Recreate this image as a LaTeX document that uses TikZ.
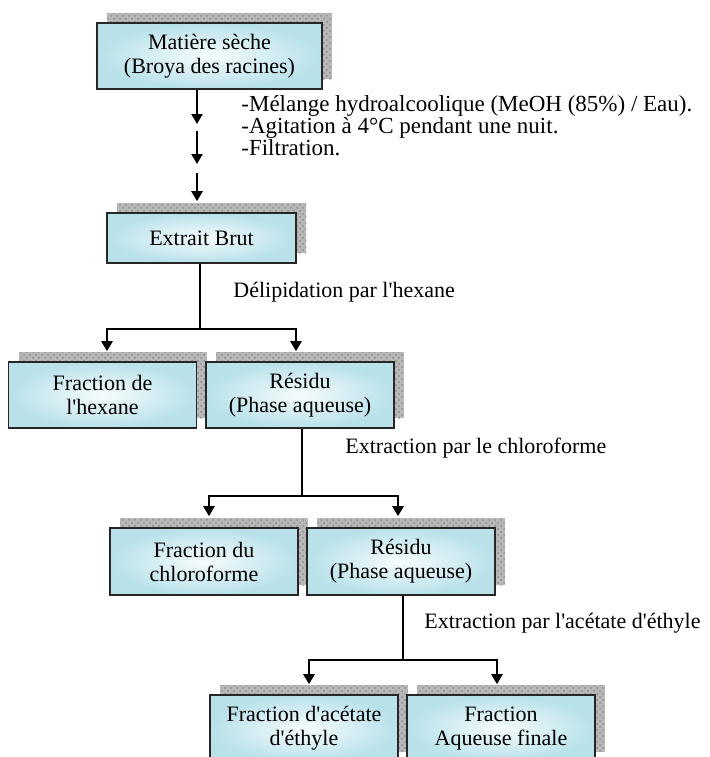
\documentclass[tikz,border=0pt]{standalone}
\usepackage{fontspec}
\setmainfont{Liberation Serif}
\usetikzlibrary{arrows.meta,shadows,calc,patterns}
\newcommand\sq{\textquotesingle}
\definecolor{boxedge}{RGB}{184,225,234}
\definecolor{boxmid}{RGB}{246,252,253}
\definecolor{shadowgray}{RGB}{184,184,184}
\tikzset{
  box/.style={draw=black!85, line width=0.8pt, shading=radial, inner color=boxmid, outer color=boxedge,
    minimum width=94pt, align=center, inner sep=0pt,
    font=\fontsize{11}{12}\selectfont,
    general shadow={fill=shadowgray, postaction={pattern=crosshatch dots, pattern color=black!45},
      shadow xshift=5pt, shadow yshift=5pt}},
  conn/.style={line width=1.2pt, black},
  arr/.style={conn, -{Triangle[length=5pt,width=5.5pt]}},
  lbl/.style={anchor=west, inner sep=0pt, align=left, font=\fontsize{11}{11}\selectfont}
}
\begin{document}
\begin{tikzpicture}[x=0.5pt,y=-0.5pt]
\clip (0,0) rectangle (710,757);
\fill[white] (0,0) rectangle (710,757);
% boxes
\node[box, minimum width=112.5pt, minimum height=33pt] (mat) at (209.5,56) {Matière sèche\\(Broya des racines)};
\node[box, minimum width=94.5pt, minimum height=25pt] (brut) at (201.5,238) {Extrait Brut};
\node[box, minimum height=33pt] (hex) at (102.5,395) {Fraction de\\l\sq hexane};
\node[box, minimum height=33pt] (res1) at (300,395) {Résidu\\(Phase aqueuse)};
\node[box, minimum height=33.5pt] (chl) at (204,561.5) {Fraction du\\chloroforme};
\node[box, minimum height=33.5pt] (res2) at (401,561.5) {Résidu\\(Phase aqueuse)};
\node[box, minimum height=33.5pt] (ace) at (304,728.5) {Fraction d\sq acétate\\d\sq éthyle};
\node[box, minimum height=33.5pt] (aq) at (501,728.5) {Fraction\\Aqueuse finale};
% labels
\node[lbl, font=\fontsize{11.5}{11}\selectfont] (steps) at (241,126) {-Mélange hydroalcoolique (MeOH (85\%) / Eau).\\-Agitation à 4°C pendant une nuit.\\-Filtration.};
\node[lbl] (l1) at (233,292) {Délipidation par l\sq hexane};
\node[lbl] (l2) at (345,448) {Extraction par le chloroforme};
\node[lbl] (l3) at (424,623) {Extraction par l\sq acétate d\sq éthyle};
% dashed arrows
\coordinate (d1) at (197,124);
\coordinate (d2s) at (197,131);
\coordinate (d2) at (197,164);
\coordinate (d3s) at (197,173);
\draw[arr] (mat.south -| d1) -- (d1);
\draw[arr] (d2s) -- (d2);
\draw[arr] (d3s) -- ([yshift=5.5pt]brut.north -| d3s);
% level 1
\coordinate (j1) at (200,329);
\draw[conn] (brut.south -| j1) -- (j1);
\draw[arr] (j1) -| ([shift={(4.5,-10)}]hex.north);
\draw[arr] (j1) -| ([shift={(-4,-10)}]res1.north);
% level 2
\coordinate (j2) at (302,496);
\draw[conn] (res1.south -| j2) -- (j2);
\draw[arr] (j2) -| ([shift={(5,-11)}]chl.north);
\draw[arr] (j2) -| ([shift={(-3,-11)}]res2.north);
% level 3
\coordinate (j3) at (403,660);
\draw[conn] (res2.south -| j3) -- (j3);
\draw[arr] (j3) -| ([shift={(5,-10)}]ace.north);
\draw[arr] (j3) -| ([shift={(-4,-10)}]aq.north);
\end{tikzpicture}
\end{document}
